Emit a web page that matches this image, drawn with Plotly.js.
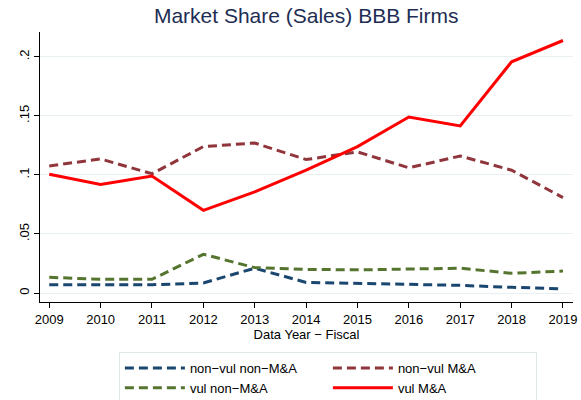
<!DOCTYPE html>
<html>
<head>
<meta charset="utf-8">
<script src="https://cdn.plot.ly/plotly-3.0.1.min.js"></script>
<style>html,body{margin:0;padding:0;background:#fff;}#chart{width:581px;height:400px;}</style>
</head>
<body>
<div id="chart"></div>
<script>
const years = [2009, 2010, 2011, 2012, 2013, 2014, 2015, 2016, 2017, 2018, 2019];
const nonvulNonMA = [0.007, 0.007, 0.007, 0.0085, 0.021, 0.009, 0.0082, 0.007, 0.0065, 0.0048, 0.0036];
const nonvulMA = [0.1076, 0.1135, 0.101, 0.124, 0.127, 0.113, 0.1195, 0.106, 0.116, 0.104, 0.0808];
const vulNonMA = [0.0133, 0.0116, 0.0116, 0.0328, 0.0215, 0.020, 0.0196, 0.0206, 0.021, 0.0167, 0.0186];
const vulMA = [0.1006, 0.092, 0.099, 0.070, 0.0856, 0.104, 0.124, 0.149, 0.1415, 0.1958, 0.2138];
const seriesNames = ["non\u2212vul non\u2212M&A", "non\u2212vul M&A", "vul non\u2212M&A", "vul M&A"];
const yTickVals = [0, 0.05, 0.1, 0.15, 0.2];
const yTickText = ["0", ".05", ".1", ".15", ".2"];

const font = "Liberation Sans, Arial, sans-serif";
const traces = [
  {x: years, y: nonvulNonMA, name: seriesNames[0], mode: "lines", line: {color: "#1a476f", width: 3, dash: "9px,5px"}},
  {x: years, y: nonvulMA, name: seriesNames[1], mode: "lines", line: {color: "#90353b", width: 3, dash: "9px,5px"}},
  {x: years, y: vulNonMA, name: seriesNames[2], mode: "lines", line: {color: "#55752f", width: 3, dash: "9px,5px"}},
  {x: years, y: vulMA, name: seriesNames[3], mode: "lines", line: {color: "#ff0000", width: 3}}
];
const layout = {
  width: 581, height: 400,
  paper_bgcolor: "#ffffff", plot_bgcolor: "#ffffff",
  margin: {l: 40, r: 8, t: 32, b: 98, autoexpand: false},
  font: {family: font, size: 13, color: "#000"},
  title: {text: "Market Share (Sales) BBB Firms", font: {family: font, size: 21, color: "#1e2d53"}, x: 0.527, xanchor: "center", y: 0.962, yanchor: "middle"},
  xaxis: {
    range: [2008.82, 2019.195], tickvals: years, ticktext: years.map(String),
    showgrid: false, zeroline: false, showline: true, linecolor: "#000", linewidth: 1,
    ticks: "outside", ticklen: 5, tickcolor: "#000", tickfont: {size: 13},
    title: {text: "Data Year \u2212 Fiscal", font: {size: 13}, standoff: 4}
  },
  yaxis: {
    range: [-0.0076, 0.221], tickvals: yTickVals, ticktext: yTickText, tickangle: -90,
    showgrid: true, gridcolor: "#e8f0f1", gridwidth: 1, zeroline: false,
    showline: true, linecolor: "#000", linewidth: 1,
    ticks: "outside", ticklen: 5, tickcolor: "#000", tickfont: {size: 13}
  },
  showlegend: true,
  legend: {
    orientation: "h", x: 0.148, xanchor: "left", y: -0.185, yanchor: "top",
    bordercolor: "#e0e8e8", borderwidth: 1, bgcolor: "#fff",
    itemwidth: 60, entrywidth: 133, entrywidthmode: "pixels", font: {size: 13}, traceorder: "normal"
  }
};
Plotly.newPlot("chart", traces, layout, {displayModeBar: false, staticPlot: true});
</script>
</body>
</html>
